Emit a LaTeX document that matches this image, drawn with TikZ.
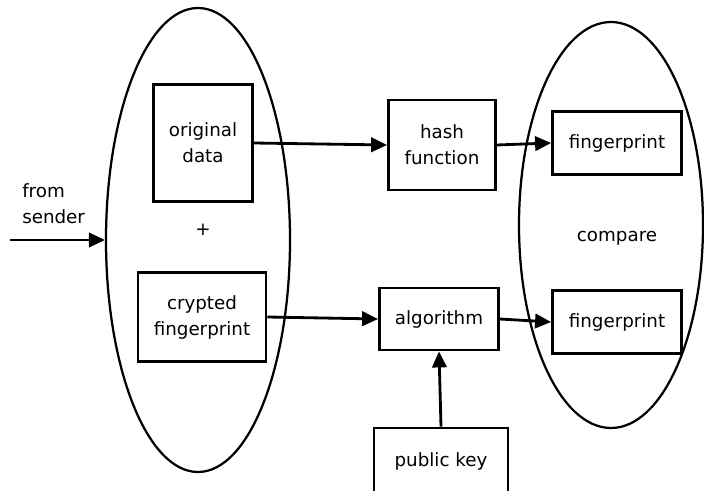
\documentclass[tikz,border=0pt]{standalone}
\usepackage{fontspec}
\setmainfont{DejaVu Sans}
\usepackage{tikz}
\usetikzlibrary{arrows.meta,shapes.geometric,positioning}
\tikzstyle{box} = [draw, line width=2pt, inner sep=0pt, align=center, font=\fontsize{13}{18.5}\selectfont]
\tikzstyle{group} = [draw, ellipse, line width=1.6pt, inner sep=0pt]
\tikzstyle{arrow} = [line width=2pt, -{Triangle[length=0.4cm,width=0.36cm]}]

\begin{document}
\begin{tikzpicture}
\useasboundingbox (0,0) rectangle (17.6,-12.275);

% Groups
\node[group, minimum width=4.6cm, minimum height=11.6cm] (recv) at (4.95,-6.0) {};
\node[group, minimum width=4.6cm, minimum height=10.15cm] (cmp) at (15.275,-5.625) {};

% Received message
\node[box, minimum width=2.475cm, minimum height=2.925cm] (data) at (5.075,-3.575) {original\\data};
\node[font=\fontsize{13}{18.5}\selectfont] (plus) at (5.075,-5.75) {+};
\node[box, minimum width=3.2cm, minimum height=2.225cm] (crypt) at (5.05,-7.925) {crypted\\fingerprint};

% Sender input
\coordinate (src) at (0.25,-6.0);
\node[anchor=west, align=left, inner sep=0pt, font=\fontsize{13}{18.5}\selectfont] (sender) at (0.55,-5.1) {from\\sender};
\draw[arrow] (src) -- (recv.west);

% Processing
\node[box, minimum width=2.675cm, minimum height=2.25cm] (hash) at (11.05,-3.625) {hash\\function};
\node[box, minimum width=2.975cm, minimum height=1.55cm] (algo) at (10.975,-7.975) {algorithm};
\node[box, minimum width=3.35cm, minimum height=1.65cm] (key) at (11.025,-11.525) {public key};

% Compare
\node[box, minimum width=3.225cm, minimum height=1.575cm] (fp1) at (15.425,-3.575) {fingerprint};
\node[font=\fontsize{13}{18.5}\selectfont] (compare) at (15.425,-5.95) {compare};
\node[box, minimum width=3.225cm, minimum height=1.575cm] (fp2) at (15.425,-8.05) {fingerprint};

% Connectors
\draw[arrow] (data.east) -- (hash.west);
\draw[arrow] (hash.east) -- (fp1.west);
\draw[arrow] (crypt.east) -- (algo.west);
\draw[arrow] (algo.east) -- (fp2.west);
\draw[arrow] (key.north) -- (algo.south);
\end{tikzpicture}
\end{document}
